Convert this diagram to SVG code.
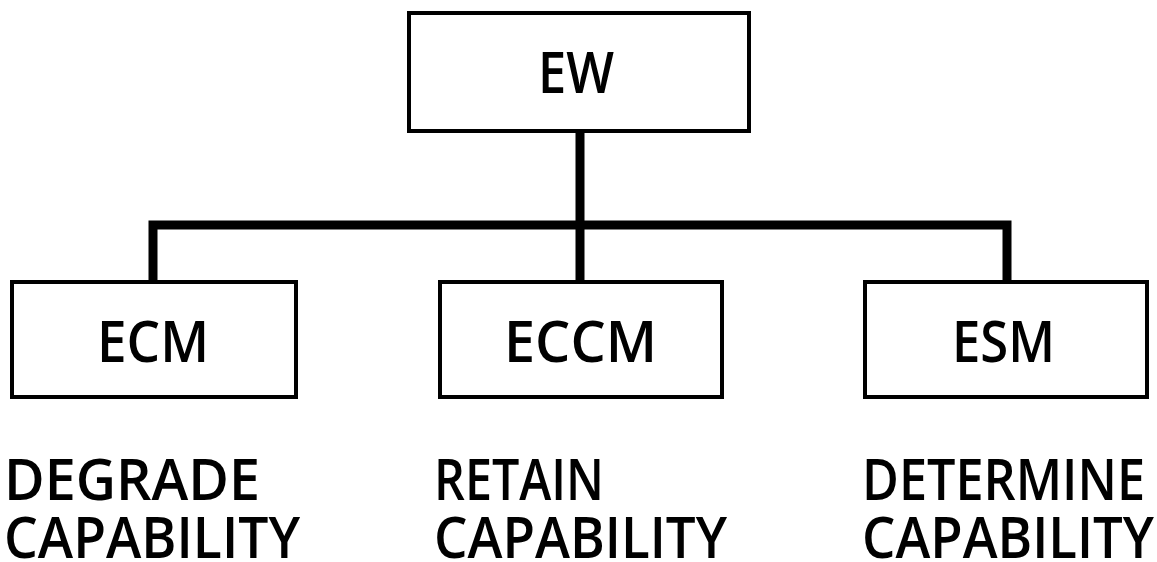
<svg xmlns="http://www.w3.org/2000/svg" width="1157" height="562" viewBox="0 0 1157 562">
  <style>
    .box { fill: #ffffff; stroke: #000000; stroke-width: 4; }
    .link { fill: none; stroke: #000000; stroke-width: 9; stroke-linejoin: miter; stroke-linecap: butt; }
    .lbl { font-family: "Open Sans", "Liberation Sans", Arial, sans-serif; font-weight: 600; font-size: 58px; fill: #000000; }
  </style>
  <rect width="1157" height="562" fill="#ffffff"/>

  <!-- tree connectors -->
  <g id="connectors">
    <path class="link" d="M580,131 V282"/>
    <path class="link" d="M153,282 V225 H1007 V282"/>
  </g>

  <!-- top node -->
  <g id="node-ew">
    <rect class="box" x="409" y="13" width="340" height="118"/>
    <text class="lbl" x="538" y="93" textLength="76" lengthAdjust="spacingAndGlyphs">EW</text>
  </g>

  <!-- child nodes -->
  <g id="node-ecm">
    <rect class="box" x="12" y="282" width="284" height="115"/>
    <text class="lbl" x="97" y="362" textLength="112" lengthAdjust="spacingAndGlyphs">ECM</text>
  </g>
  <g id="node-eccm">
    <rect class="box" x="440" y="282" width="282" height="115"/>
    <text class="lbl" x="504" y="362" textLength="153" lengthAdjust="spacingAndGlyphs">ECCM</text>
  </g>
  <g id="node-esm">
    <rect class="box" x="865" y="282" width="282" height="115"/>
    <text class="lbl" x="952" y="362" textLength="103" lengthAdjust="spacingAndGlyphs">ESM</text>
  </g>

  <!-- captions under each child -->
  <g id="caption-ecm">
    <text class="lbl" x="4" y="500" textLength="256" lengthAdjust="spacingAndGlyphs">DEGRADE</text>
    <text class="lbl" x="4" y="558" textLength="296" lengthAdjust="spacingAndGlyphs">CAPABILITY</text>
  </g>
  <g id="caption-eccm">
    <text class="lbl" x="434" y="500" textLength="170" lengthAdjust="spacingAndGlyphs">RETAIN</text>
    <text class="lbl" x="434" y="558" textLength="293" lengthAdjust="spacingAndGlyphs">CAPABILITY</text>
  </g>
  <g id="caption-esm">
    <text class="lbl" x="862" y="500" textLength="283" lengthAdjust="spacingAndGlyphs">DETERMINE</text>
    <text class="lbl" x="862" y="558" textLength="292" lengthAdjust="spacingAndGlyphs">CAPABILITY</text>
  </g>
</svg>
